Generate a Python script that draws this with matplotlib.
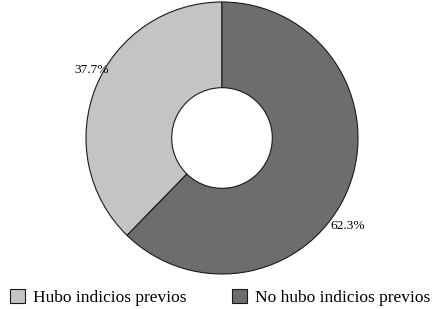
import matplotlib.pyplot as plt

# datos
categorias = ['Hubo indicios previos', 'No hubo indicios previos']
porcentajes = [37.7, 62.3]
colores = ['#c4c4c4', '#6d6d6d']

plt.rcParams['font.family'] = ['Liberation Serif', 'DejaVu Serif']

fig = plt.figure(figsize=(4.32, 3.09), dpi=100)
# eje cuadrado en píxeles: centro (222,138), radio 136
ax = fig.add_axes([86 / 432, (309 - 274) / 309, 272 / 432, 272 / 309])

wedges, _ = ax.pie(porcentajes, colors=colores, startangle=90, counterclock=True,
                   radius=1, wedgeprops=dict(width=0.63, edgecolor='#1a1a1a', linewidth=0.8))
ax.set_xlim(-1, 1)
ax.set_ylim(-1, 1)
ax.set_aspect('equal')

# etiquetas de porcentaje
ax.text(-0.83, 0.50, f'{porcentajes[0]}%', ha='right', va='center', fontsize=9.6)
ax.text(0.80, -0.65, f'{porcentajes[1]}%', ha='left', va='center', fontsize=9.6)

fig.legend(wedges, categorias, loc='lower left', bbox_to_anchor=(0.0, -0.025), ncol=2,
           frameon=False, fontsize=12.5, handlelength=0.85, handleheight=0.85,
           handletextpad=0.45, columnspacing=2.63, borderaxespad=0.2)

fig.savefig('out.png', dpi=100)
